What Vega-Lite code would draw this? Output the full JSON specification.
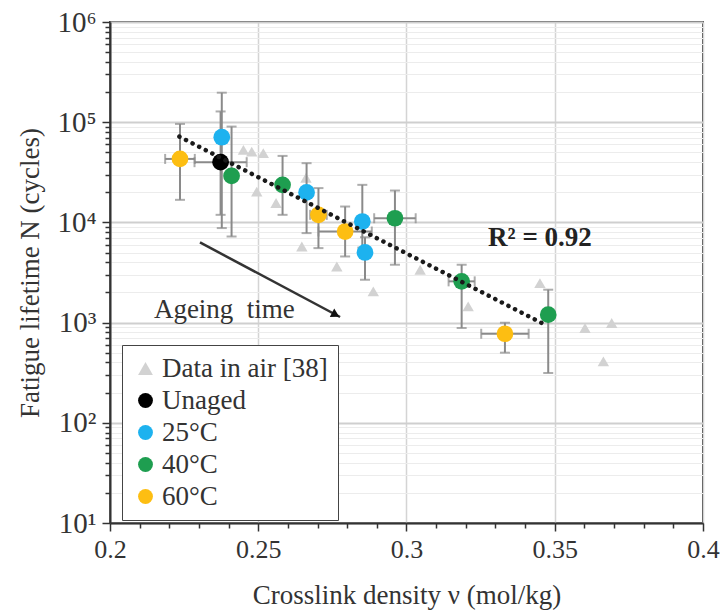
{
  "$schema": "https://vega.github.io/schema/vega-lite/v6.json",
  "width": 593,
  "height": 501,
  "autosize": {"type": "none"},
  "padding": {"left": 110, "top": 22, "right": 18, "bottom": 91},
  "background": "white",
  "config": {
    "view": {"stroke": "#444", "strokeWidth": 2},
    "font": "Liberation Serif",
    "text": {"font": "Liberation Serif"}
  },
  "datasets": {
    "pts": [
      {"series": "60°C", "x": 0.2236, "y": 43000, "ylo": 16800, "yhi": 96100, "xlo": 0.2186, "xhi": 0.2286},
      {"series": "Unaged", "x": 0.2373, "y": 39900, "ylo": 11900, "yhi": 128000, "xlo": 0.2285, "xhi": 0.2461},
      {"series": "25°C", "x": 0.2377, "y": 70800, "ylo": 8780, "yhi": 197000, "xlo": null, "xhi": null},
      {"series": "40°C", "x": 0.241, "y": 29100, "ylo": 7230, "yhi": 90400, "xlo": null, "xhi": null},
      {"series": "40°C", "x": 0.2582, "y": 23700, "ylo": 11900, "yhi": 46100, "xlo": null, "xhi": null},
      {"series": "25°C", "x": 0.2663, "y": 19900, "ylo": 7820, "yhi": 39000, "xlo": null, "xhi": null},
      {"series": "60°C", "x": 0.2703, "y": 11900, "ylo": 5540, "yhi": 22000, "xlo": 0.2675, "xhi": 0.2731},
      {"series": "60°C", "x": 0.2793, "y": 8110, "ylo": 4570, "yhi": 14400, "xlo": 0.2703, "xhi": 0.2883},
      {"series": "25°C", "x": 0.2851, "y": 10200, "ylo": 5600, "yhi": 23700, "xlo": null, "xhi": null},
      {"series": "25°C", "x": 0.286, "y": 5010, "ylo": 2680, "yhi": 7100, "xlo": null, "xhi": null},
      {"series": "40°C", "x": 0.2961, "y": 11000, "ylo": 3780, "yhi": 20800, "xlo": 0.2891, "xhi": 0.3031},
      {"series": "40°C", "x": 0.3186, "y": 2580, "ylo": 883, "yhi": 3780, "xlo": 0.3142, "xhi": 0.323},
      {"series": "60°C", "x": 0.3332, "y": 774, "ylo": 501, "yhi": 997, "xlo": 0.3252, "xhi": 0.3412},
      {"series": "40°C", "x": 0.3478, "y": 1200, "ylo": 314, "yhi": 2130, "xlo": null, "xhi": null}
    ],
    "air": [
      {"series": "Data in air [38]", "x": 0.245, "y": 53000},
      {"series": "Data in air [38]", "x": 0.2478, "y": 50900},
      {"series": "Data in air [38]", "x": 0.2517, "y": 49100},
      {"series": "Data in air [38]", "x": 0.2495, "y": 20300},
      {"series": "Data in air [38]", "x": 0.256, "y": 15600},
      {"series": "Data in air [38]", "x": 0.2661, "y": 27900},
      {"series": "Data in air [38]", "x": 0.2647, "y": 5750},
      {"series": "Data in air [38]", "x": 0.2765, "y": 3630},
      {"series": "Data in air [38]", "x": 0.2888, "y": 2050},
      {"series": "Data in air [38]", "x": 0.3046, "y": 3370},
      {"series": "Data in air [38]", "x": 0.3208, "y": 1450},
      {"series": "Data in air [38]", "x": 0.345, "y": 2480},
      {"series": "Data in air [38]", "x": 0.3602, "y": 883},
      {"series": "Data in air [38]", "x": 0.3664, "y": 410},
      {"series": "Data in air [38]", "x": 0.3692, "y": 991}
    ],
    "trend": [
      {"x": 0.2234, "y": 71800},
      {"x": 0.3456, "y": 991}
    ],
    "arrow": [
      {"x": 0.23035, "y": 6310},
      {"x": 0.2776, "y": 1137}
    ],
    "arrowhead": [
      {"x": 0.2761, "y": 1199}
    ],
    "notes": [
      {"x": 0.2148, "y": 1350, "label": "Ageing\u00a0 time"}
    ],
    "r2": [
      {"x": 0.345, "y": 6970, "label": "R² = 0.92"}
    ]
  },
  "encoding": {
    "x": {
      "field": "x",
      "type": "quantitative",
      "scale": {"domain": [0.2, 0.4], "nice": false, "zero": false},
      "axis": {
        "title": "Crosslink density ν (mol/kg)",
        "titleFont": "Liberation Serif",
        "titleFontSize": 27,
        "titleFontWeight": "normal",
        "titleColor": "#333",
        "titlePadding": 20,
        "values": [0.2, 0.21, 0.22, 0.23, 0.24, 0.25, 0.26, 0.27, 0.28, 0.29, 0.3, 0.31, 0.32, 0.33, 0.34, 0.35, 0.36, 0.37, 0.38, 0.39, 0.4],
        "labelExpr": "abs(datum.value*20 - round(datum.value*20)) < 0.001 ? format(datum.value, '~g') : ''",
        "labelFont": "Liberation Serif",
        "labelFontSize": 26,
        "labelColor": "#333",
        "labelPadding": 5,
        "labelFlush": false,
        "labelOverlap": false,
        "domainColor": "#333",
        "domainWidth": 2,
        "tickColor": "#333",
        "tickWidth": 1.5,
        "tickSize": {"condition": {"test": "abs(datum.value*20 - round(datum.value*20)) < 0.001", "value": 8}, "value": 5},
        "grid": true,
        "gridColor": "#d4d4d4",
        "gridWidth": 1.5,
        "gridOpacity": {"condition": {"test": "abs(datum.value*20 - round(datum.value*20)) < 0.001", "value": 1}, "value": 0}
      }
    },
    "y": {
      "field": "y",
      "type": "quantitative",
      "scale": {"type": "log", "domain": [10, 1000000], "nice": false},
      "axis": {
        "title": "Fatigue lifetime N (cycles)",
        "titleFont": "Liberation Serif",
        "titleFontSize": 27,
        "titleFontWeight": "normal",
        "titleColor": "#333",
        "titlePadding": 12,
        "values": [10, 20, 30, 40, 50, 60, 70, 80, 90, 100, 200, 300, 400, 500, 600, 700, 800, 900, 1000, 2000, 3000, 4000, 5000, 6000, 7000, 8000, 9000, 10000, 20000, 30000, 40000, 50000, 60000, 70000, 80000, 90000, 100000, 200000, 300000, 400000, 500000, 600000, 700000, 800000, 900000, 1000000],
        "labelExpr": "abs(log(datum.value)/LN10 - round(log(datum.value)/LN10)) < 0.001 ? '10' + ['⁰','¹','²','³','⁴','⁵','⁶'][round(log(datum.value)/LN10)] : ''",
        "labelFont": "Liberation Serif",
        "labelFontSize": 29,
        "labelColor": "#333",
        "labelPadding": 6,
        "labelFlush": false,
        "labelOverlap": false,
        "domainColor": "#333",
        "domainWidth": 2,
        "tickColor": "#333",
        "tickWidth": 1.5,
        "tickSize": {"condition": {"test": "abs(log(datum.value)/LN10 - round(log(datum.value)/LN10)) < 0.001", "value": 8}, "value": 5},
        "grid": true,
        "gridWidth": {"condition": {"test": "abs(log(datum.value)/LN10 - round(log(datum.value)/LN10)) < 0.001", "value": 2}, "value": 1.2},
        "gridColor": {"condition": {"test": "abs(log(datum.value)/LN10 - round(log(datum.value)/LN10)) < 0.001", "value": "#cfcfcf"}, "value": "#ececec"}
      }
    }
  },
  "layer": [
    {
      "data": {"name": "air"},
      "mark": {"type": "point", "filled": true, "opacity": 1, "size": 130},
      "encoding": {
        "color": {
          "field": "series",
          "type": "nominal",
          "scale": {"domain": ["Data in air [38]", "Unaged", "25°C", "40°C", "60°C"], "range": ["#d2d2d2", "#000000", "#1db2ef", "#1e9e50", "#fdbe12"]},
          "legend": {
            "title": null,
            "orient": "none",
            "legendX": 12,
            "legendY": 323,
            "direction": "vertical",
            "labelFont": "Liberation Serif",
            "labelFontSize": 27,
            "labelColor": "#333",
            "labelLimit": 400,
            "labelOffset": 3,
            "symbolSize": 220,
            "symbolStrokeWidth": 0,
            "rowPadding": 4,
            "padding": 10,
            "strokeColor": "#444",
            "fillColor": "white"
          }
        },
        "shape": {
          "field": "series",
          "type": "nominal",
          "scale": {"domain": ["Data in air [38]", "Unaged", "25°C", "40°C", "60°C"], "range": ["triangle-up", "circle", "circle", "circle", "circle"]},
          "legend": {
            "title": null,
            "orient": "none",
            "legendX": 12,
            "legendY": 323
          }
        }
      }
    },
    {
      "data": {"name": "pts"},
      "mark": {"type": "rule", "color": "#8a8a8a", "strokeWidth": 2},
      "encoding": {
        "y": {"field": "ylo", "type": "quantitative"},
        "y2": {"field": "yhi"}
      }
    },
    {
      "data": {"name": "pts"},
      "transform": [{"fold": ["ylo", "yhi"], "as": ["end", "yv"]}],
      "mark": {"type": "tick", "orient": "horizontal", "color": "#8a8a8a", "size": 10, "thickness": 2},
      "encoding": {
        "y": {"field": "yv", "type": "quantitative"}
      }
    },
    {
      "data": {"name": "pts"},
      "transform": [{"filter": "datum.xlo != null"}],
      "mark": {"type": "rule", "color": "#8a8a8a", "strokeWidth": 2},
      "encoding": {
        "x": {"field": "xlo", "type": "quantitative"},
        "x2": {"field": "xhi"}
      }
    },
    {
      "data": {"name": "pts"},
      "transform": [{"filter": "datum.xlo != null"}, {"fold": ["xlo", "xhi"], "as": ["end", "xv"]}],
      "mark": {"type": "tick", "orient": "vertical", "color": "#8a8a8a", "size": 10, "thickness": 2},
      "encoding": {
        "x": {"field": "xv", "type": "quantitative"}
      }
    },
    {
      "data": {"name": "pts"},
      "mark": {"type": "point", "filled": true, "opacity": 1, "size": 280},
      "encoding": {
        "color": {"field": "series", "type": "nominal"},
        "shape": {"field": "series", "type": "nominal"}
      }
    },
    {
      "data": {"name": "trend"},
      "mark": {"type": "line", "color": "#1a1a1a", "strokeWidth": 4.5, "strokeDash": [0.1, 7.3], "strokeCap": "round"},
      "encoding": {}
    },
    {
      "data": {"name": "arrow"},
      "mark": {"type": "line", "color": "#333", "strokeWidth": 2.5},
      "encoding": {}
    },
    {
      "data": {"name": "arrowhead"},
      "mark": {"type": "point", "shape": "triangle-up", "filled": true, "color": "#111", "opacity": 1, "size": 90, "angle": 118},
      "encoding": {}
    },
    {
      "data": {"name": "notes"},
      "mark": {"type": "text", "align": "left", "baseline": "middle", "font": "Liberation Serif", "fontSize": 27, "color": "#333"},
      "encoding": {"text": {"field": "label"}}
    },
    {
      "data": {"name": "r2"},
      "mark": {"type": "text", "align": "center", "baseline": "middle", "font": "Liberation Serif", "fontSize": 27, "fontWeight": "bold", "color": "#222"},
      "encoding": {"text": {"field": "label"}}
    }
  ]
}
